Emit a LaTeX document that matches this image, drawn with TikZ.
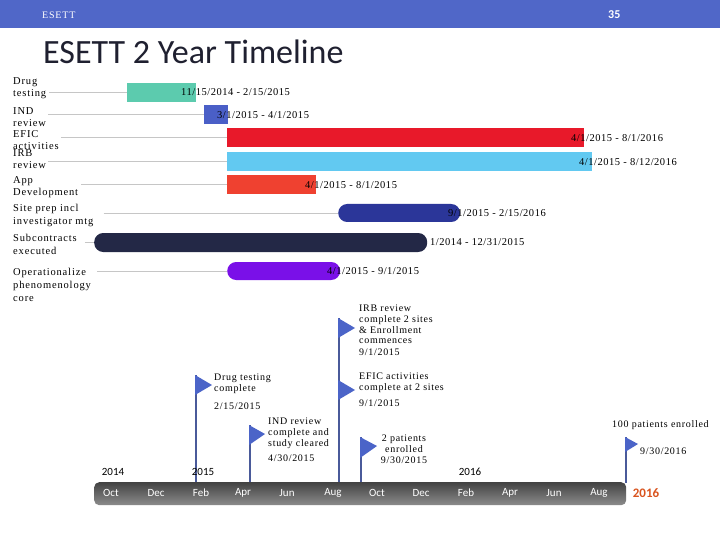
\documentclass[tikz,border=0pt]{standalone}
\usepackage{fontspec}
\setmainfont{Liberation Serif}
\newfontfamily\carl{Carlito}
\newfontfamily\labf[LetterSpace=8]{Liberation Serif}
\newfontfamily\datef[LetterSpace=5]{Liberation Serif}
\newfontfamily\milef[LetterSpace=7]{Liberation Serif}
\definecolor{hdr}{HTML}{5067C8}
\definecolor{cdrug}{HTML}{5CCBAE}
\definecolor{cind}{HTML}{4A5FC7}
\definecolor{cefic}{HTML}{E8192A}
\definecolor{cirb}{HTML}{62C9F1}
\definecolor{capp}{HTML}{EF4130}
\definecolor{csite}{HTML}{2B3699}
\definecolor{csub}{HTML}{232846}
\definecolor{coper}{HTML}{7A10E8}
\definecolor{flagc}{HTML}{4B64C8}
\definecolor{polec}{HTML}{4A5A9A}
\definecolor{orng}{HTML}{D9541F}
\definecolor{ttl}{HTML}{1F2030}
\begin{document}
\begin{tikzpicture}[x=1pt,y=-1pt,
  tasklab/.style={anchor=north west,inner sep=0pt,align=left,font=\labf\fontsize{10.5}{12.8}\selectfont},
  bar/.style={anchor=west,inner sep=0pt,minimum height=19pt},
  datelab/.style={anchor=west,inner sep=0pt,font=\datef\fontsize{10.5}{12}\selectfont},
  conn/.style={draw=gray!45,line width=0.8pt},
  mtext/.style={anchor=north west,inner sep=0pt,align=left,font=\milef\fontsize{10}{10.7}\selectfont},
  mdate/.style={anchor=west,inner sep=0pt,font=\milef\fontsize{10}{10.7}\selectfont},
  pole/.style={draw=polec,line width=2pt},
  flag/.style={fill=flagc},
  month/.style={text=white,font=\carl\fontsize{11}{12}\selectfont,inner sep=0pt},
  yearlab/.style={font=\carl\fontsize{11}{12}\selectfont,inner sep=0pt}]
\useasboundingbox (0,0) rectangle (720,540);
\fill[white] (0,0) rectangle (720,540);
% header
\fill[hdr] (0,0) rectangle (720,28);
\node[anchor=west,text=white,inner sep=0pt,font=\labf\fontsize{10}{11}\selectfont] (hdrl) at (42,15) {ESETT};
\node[anchor=west,text=white,inner sep=0pt,font=\carl\bfseries\fontsize{12}{13}\selectfont] (hdrn) at (608,15) {35};
\node[anchor=west,text=ttl,inner sep=0pt,font=\carl\fontsize{34}{36}\selectfont] (title) at (43,52) {ESETT 2 Year Timeline};
% task labels
\node[tasklab] (l1) at (13,77) {Drug\\testing};
\node[tasklab] (l2) at (13,107) {IND\\review};
\node[tasklab] (l3) at (13,130) {EFIC\\activities};
\node[tasklab] (l4) at (13,149) {IRB\\review};
\node[tasklab] (l5) at (13,176) {App\\Development};
\node[tasklab] (l6) at (13,204) {Site prep incl\\investigator mtg};
\node[tasklab] (l7) at (13,234) {Subcontracts\\executed};
\node[tasklab] (l8) at (13,268) {Operationalize\\phenomenology\\core};
% bars
\node[bar,fill=cdrug,minimum width=69pt] (b1) at (127,92.5) {};
\node[bar,fill=cind,minimum width=24pt] (b2) at (204,114.5) {};
\node[bar,fill=cefic,minimum width=357pt] (b3) at (227,137.5) {};
\node[bar,fill=cirb,minimum width=365pt] (b4) at (227,161.5) {};
\node[bar,fill=capp,minimum width=89pt] (b5) at (227,184.5) {};
\node[bar,fill=csite,minimum width=122pt,minimum height=18pt,rounded corners=9pt] (b6) at (338,213) {};
\node[bar,fill=csub,minimum width=333pt,rounded corners=9pt] (b7) at (94,242.5) {};
\node[bar,fill=coper,minimum width=113pt,minimum height=18pt,rounded corners=9pt] (b8) at (227,271) {};
% connectors
\draw[conn] ([xshift=3pt]l1.east |- b1.west) -- (b1.west);
\draw[conn] ([xshift=2pt]l2.east |- b2.west) -- (b2.west);
\draw[conn] ([xshift=2pt]l3.east |- b3.west) -- (b3.west);
\draw[conn] ([xshift=2pt]l4.east |- b4.west) -- (b4.west);
\draw[conn] ([xshift=3pt]l5.east |- b5.west) -- (b5.west);
\draw[conn] ([xshift=10pt]l6.east |- b6.west) -- (b6.west);
\draw[conn] ([xshift=8pt]l7.east |- b7.west) -- (b7.west);
\draw[conn] ([xshift=6pt]l8.east |- b8.west) -- (b8.west);
% date labels
\node[datelab] (d1) at (181,92) {11/15/2014 - 2/15/2015};
\node[datelab] (d2) at (217,115) {3/1/2015 - 4/1/2015};
\node[datelab] (d3) at (571,138) {4/1/2015 - 8/1/2016};
\node[datelab] (d4) at (579,162) {4/1/2015 - 8/12/2016};
\node[datelab] (d5) at (305,185) {4/1/2015 - 8/1/2015};
\node[datelab] (d6) at (448,213) {9/1/2015 - 2/15/2016};
\node[datelab] (d7) at (430,242) {1/2014 - 12/31/2015};
\node[datelab] (d8) at (327,271) {4/1/2015 - 9/1/2015};
% axis
\node[anchor=north west,minimum width=532pt,minimum height=23pt,inner sep=0pt,rounded corners=5pt,top color=black!74,bottom color=black!45] (axis) at (94,482) {};
% poles
\coordinate (p1) at (196,375);
\coordinate (p2) at (250,425);
\coordinate (p3) at (339,318);
\coordinate (p4) at (361,437);
\coordinate (p5) at (626,437);
\draw[pole] (p1) -- (p1 |- axis.north);
\draw[pole] (p2) -- (p2 |- axis.north);
\draw[pole] (p3) -- (p3 |- axis.north);
\draw[pole] (p4) -- (p4 |- axis.north);
\draw[pole] (p5) -- ([yshift=-1pt]p5 |- axis.north);
% flags
\fill[flag] (195,375) -- (212,385) -- (195,395) -- cycle;
\fill[flag] (249,425) -- (265,434) -- (249,445) -- cycle;
\fill[flag] (338,318) -- (355,328) -- (338,338) -- cycle;
\fill[flag] (338,380) -- (355,390) -- (338,400) -- cycle;
\fill[flag] (360,437) -- (377,446) -- (360,458) -- cycle;
\fill[flag] (625,437) -- (638,444) -- (625,452) -- cycle;
% milestone texts
\node[mtext] (m1) at (214,374) {Drug testing\\complete};
\node[mdate] (m1d) at (214,406) {2/15/2015};
\node[mtext] (m2) at (268,418) {IND review\\complete and\\study cleared};
\node[mdate] (m2d) at (268,458) {4/30/2015};
\node[mtext] (m3) at (359,305) {IRB review\\complete 2 sites\\\& Enrollment\\commences};
\node[mdate] (m3d) at (359,352) {9/1/2015};
\node[mtext] (m4) at (359,373) {EFIC activities\\complete at 2 sites};
\node[mdate] (m4d) at (359,403) {9/1/2015};
\node[anchor=north,inner sep=0pt,align=center,font=\milef\fontsize{10}{11}\selectfont] (m5) at (404,435) {2 patients\\enrolled\\9/30/2015};
\node[mdate] (m6) at (612,425) {100 patients enrolled};
\node[mdate] (m6d) at (640,451) {9/30/2016};
% years
\node[yearlab] (y14) at (113,472) {2014};
\node[yearlab] (y15) at (203,472) {2015};
\node[yearlab] (y16) at (470,472) {2016};
% months
\node[month] (mo1) at (111,493) {Oct};
\node[month] (mo2) at (156,493) {Dec};
\node[month] (mo3) at (201,493) {Feb};
\node[month] (mo4) at (243,493) {Apr};
\node[month] (mo5) at (287,493) {Jun};
\node[month] (mo6) at (333,493) {Aug};
\node[month] (mo7) at (377,493) {Oct};
\node[month] (mo8) at (421,493) {Dec};
\node[month] (mo9) at (466,493) {Feb};
\node[month] (mo10) at (510,493) {Apr};
\node[month] (mo11) at (554,493) {Jun};
\node[month] (mo12) at (599,493) {Aug};
\node[inner sep=0pt,text=orng,font=\carl\bfseries\fontsize{13}{14}\selectfont] (yend) at (646,493) {2016};
\end{tikzpicture}
\end{document}
